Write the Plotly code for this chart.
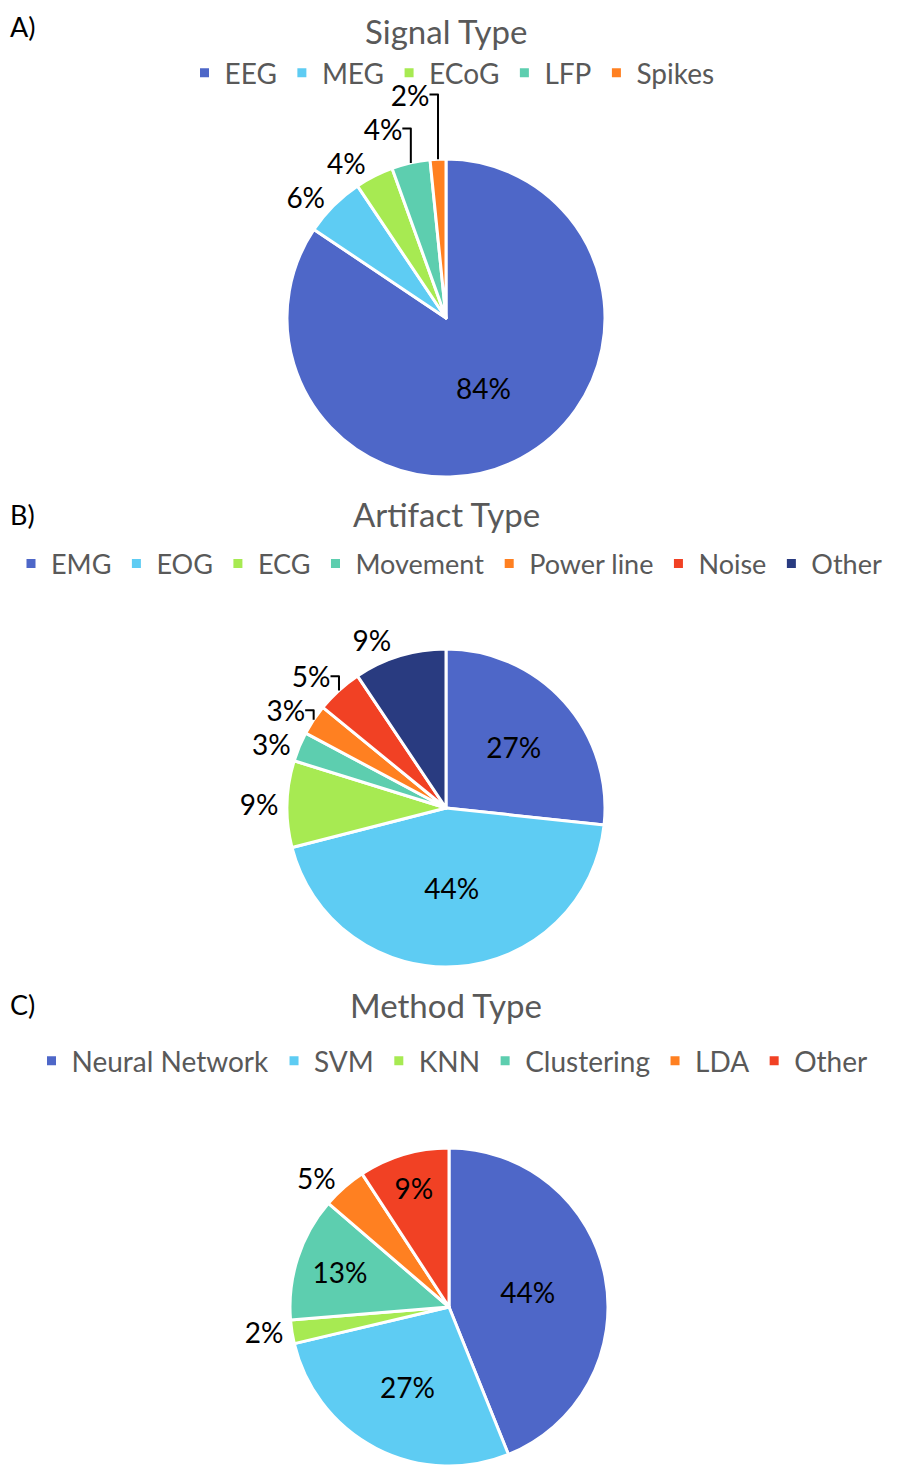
import plotly.graph_objects as go

signal_labels = ["EEG", "MEG", "ECoG", "LFP", "Spikes"]
signal_values = [84.4, 6.2, 3.9, 3.9, 1.6]

artifact_labels = ["EMG", "EOG", "ECG", "Movement", "Power line", "Noise", "Other"]
artifact_values = [26.7, 44.3, 8.8, 3.0, 3.1, 4.7, 9.4]

method_labels = ["Neural Network", "SVM", "KNN", "Clustering", "LDA", "Other"]
method_values = [43.9, 27.4, 2.4, 12.6, 4.5, 9.2]

palette = ["#4E67C8", "#5ECCF3", "#A7EA52", "#5DCEAF", "#FF8021", "#F14124", "#293B80"]

W, H = 898, 1470
OFF = 8  # the page body adds an 8px margin, so positions are shifted back by it
FONT = "Lato"


def px_x(v):
    return (v - OFF) / W


def px_y(v):
    return 1 - (v - OFF) / H


def pie(labels, values, cx, cy, rx, ry, inside, legend, tag=""):
    pos = ["inside" if i in inside else "outside" for i in range(len(labels))]
    # pies share legend entries by label, so the tag keeps each panel's labels apart
    return go.Pie(
        labels=[lab + tag for lab in labels], values=values, sort=False,
        direction="clockwise", rotation=0,
        marker=dict(colors=palette[:len(labels)], line=dict(color="white", width=3)),
        texttemplate="%{percent:.0%}", textposition=pos,
        textfont=dict(family=FONT, size=28, color="black"),
        insidetextorientation="horizontal",
        domain=dict(x=[px_x(cx - rx), px_x(cx + rx)],
                    y=[max(0, px_y(cy + ry)), min(1, px_y(cy - ry))]),
        legend=legend, hoverinfo="label+percent",
    )


fig = go.Figure()
fig.add_trace(pie(signal_labels, signal_values, 446, 318, 230, 159, [0], "legend"))
fig.add_trace(pie(artifact_labels, artifact_values, 446, 808, 230, 159, [0, 1], "legend2"))
fig.add_trace(pie(method_labels, method_values, 449, 1307, 230, 159, [0, 1, 3, 5], "legend3",
                  tag="\u200b"))

leg = dict(orientation="h", xanchor="center", x=px_x(452), yanchor="middle",
           font=dict(family=FONT, size=28, color="#595959"), itemwidth=30,
           traceorder="normal", bgcolor="rgba(0,0,0,0)")

fig.update_layout(
    width=W, height=H, paper_bgcolor="white", plot_bgcolor="white",
    margin=dict(l=0, r=0, t=0, b=0, autoexpand=False),
    legend=dict(leg, y=px_y(73)),
    legend2=dict(leg, y=px_y(564), x=px_x(449),
                 font=dict(family=FONT, size=27, color="#595959")),
    legend3=dict(leg, y=px_y(1061)),
)

for panel, title, y in [("A)", "Signal Type", 22), ("B)", "Artifact Type", 514), ("C)", "Method Type", 1005)]:
    fig.add_annotation(text=title, x=px_x(446), y=px_y(max(y, 31)), xref="paper", yref="paper",
                       xanchor="center", yanchor="middle", showarrow=False,
                       font=dict(family=FONT, size=33, color="#595959"))
    fig.add_annotation(text=panel, x=px_x(8), y=px_y(max(y, 26)), xref="paper", yref="paper",
                       xanchor="left", yanchor="middle", showarrow=False,
                       font=dict(family=FONT, size=27, color="black"))

fig.write_html("out.html")
